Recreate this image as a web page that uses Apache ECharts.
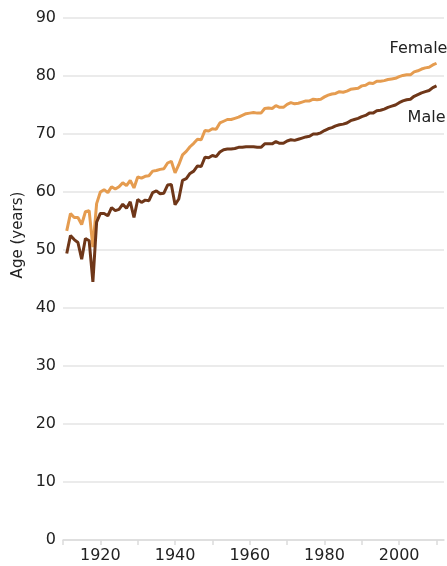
<!DOCTYPE html>
<html>
<head>
<meta charset="utf-8">
<script src="https://cdn.jsdelivr.net/npm/echarts@6/dist/echarts.min.js"></script>
<style>
html,body{margin:0;padding:0;background:#fff;}
#chart{width:447px;height:566px;}
</style>
</head>
<body>
<div id="chart"></div>
<script>
const years = [];
for (let y = 1911; y <= 2010; y++) years.push(y);

const maleValues = [
49.4,52.5,51.8,51.3,48.4,52.0,51.6,44.5,54.8,56.3,
56.3,55.9,57.3,56.8,57.0,57.9,57.2,58.3,55.6,58.7,
58.2,58.6,58.5,59.9,60.2,59.7,59.8,61.2,61.3,57.8,
58.8,62.0,62.3,63.2,63.6,64.5,64.4,66.0,65.9,66.3,
66.1,66.9,67.3,67.4,67.4,67.5,67.7,67.7,67.8,67.8,
67.8,67.7,67.7,68.3,68.3,68.3,68.7,68.4,68.4,68.8,
69.0,68.9,69.1,69.3,69.5,69.6,70.0,70.0,70.2,70.6,
70.9,71.1,71.4,71.6,71.7,71.9,72.3,72.5,72.7,73.0,
73.2,73.6,73.6,74.0,74.1,74.3,74.6,74.8,75.0,75.4,
75.7,75.9,76.0,76.5,76.8,77.1,77.3,77.5,78.0,78.3
];

const femaleValues = [
53.3,56.3,55.6,55.6,54.4,56.6,56.8,50.5,58.0,60.0,
60.4,59.9,60.9,60.5,60.9,61.6,61.1,62.0,60.7,62.6,
62.4,62.7,62.8,63.6,63.7,63.9,64.0,65.0,65.3,63.3,
64.7,66.4,67.0,67.8,68.4,69.1,69.0,70.6,70.5,70.9,
70.8,71.9,72.2,72.5,72.5,72.7,72.9,73.2,73.5,73.6,
73.7,73.6,73.6,74.4,74.5,74.4,74.9,74.6,74.6,75.1,
75.4,75.2,75.3,75.5,75.7,75.7,76.0,75.9,76.0,76.4,
76.7,76.9,77.0,77.3,77.2,77.4,77.7,77.8,77.9,78.3,
78.4,78.8,78.7,79.1,79.1,79.2,79.4,79.5,79.6,79.9,
80.1,80.2,80.2,80.7,80.9,81.2,81.4,81.5,81.9,82.2
];

const seriesNames = ['Female', 'Male'];
const yTicks = [0,10,20,30,40,50,60,70,80,90];
const xLabelYears = [1920,1940,1960,1980,2000];
const axisTitle = 'Age (years)';

const FONT = 'DejaVu Sans';

const pairs = vals => vals.map((v, i) => [years[i], v]);

const chart = echarts.init(document.getElementById('chart'), null, {renderer: 'canvas'});
chart.setOption({
  animation: false,
  backgroundColor: '#fff',
  grid: { left: 63, right: 3, top: 18, bottom: 26, containLabel: false },
  xAxis: {
    type: 'value',
    min: 1910, max: 2012, interval: 10,
    axisLine: { show: true, lineStyle: { color: '#dcdcdc', width: 1.5 } },
    axisTick: { show: true, length: 5, lineStyle: { color: '#dcdcdc', width: 1.5 } },
    splitLine: { show: false },
    axisLabel: {
      color: '#222', fontFamily: FONT, fontSize: 16, margin: 8,
      showMinLabel: true, showMaxLabel: false,
      formatter: v => xLabelYears.includes(v) ? String(v) : ''
    }
  },
  yAxis: {
    type: 'value',
    min: yTicks[0], max: yTicks[yTicks.length - 1], interval: 10,
    axisLine: { show: false },
    axisTick: { show: false },
    splitLine: { show: true, lineStyle: { color: '#e4e4e4', width: 1.5 } },
    axisLabel: { color: '#222', fontFamily: FONT, fontSize: 16, margin: 7 }
  },
  graphic: [{
    type: 'text',
    x: 18, y: 235,
    rotation: Math.PI / 2,
    style: {
      text: axisTitle, fill: '#222', font: '15px "DejaVu Sans"',
      align: 'center', verticalAlign: 'middle'
    }
  }],
  series: [
    {
      name: seriesNames[0], type: 'line', showSymbol: false, symbol: 'none',
      lineStyle: { color: '#E59C50', width: 3 },
      itemStyle: { color: '#E59C50' },
      z: 2,
      endLabel: {
        show: true, formatter: seriesNames[0], distance: 0,
        align: 'center', verticalAlign: 'middle', offset: [-18, -14],
        color: '#222', fontFamily: FONT, fontSize: 16
      },
      data: pairs(femaleValues)
    },
    {
      name: seriesNames[1], type: 'line', showSymbol: false, symbol: 'none',
      lineStyle: { color: '#6F3719', width: 3 },
      itemStyle: { color: '#6F3719' },
      z: 3,
      endLabel: {
        show: true, formatter: seriesNames[1], distance: 0,
        align: 'center', verticalAlign: 'middle', offset: [-10, 32],
        color: '#222', fontFamily: FONT, fontSize: 16
      },
      data: pairs(maleValues)
    }
  ]
});
</script>
</body>
</html>
